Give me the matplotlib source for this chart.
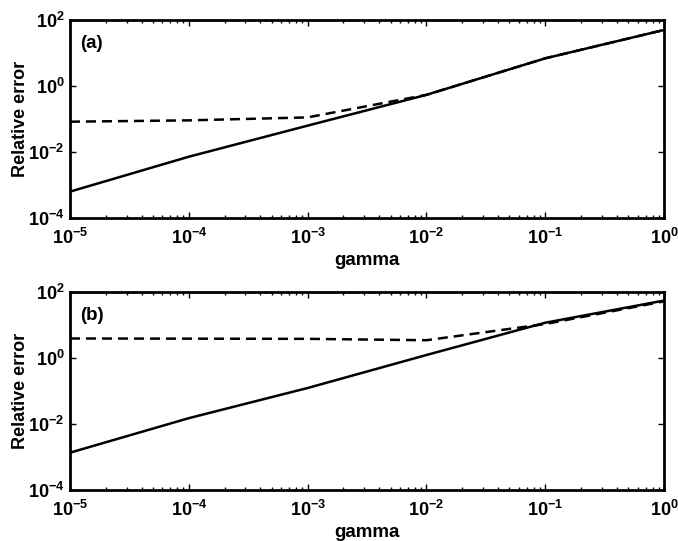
import matplotlib
matplotlib.use('Agg')
import matplotlib.pyplot as plt
from matplotlib.ticker import LogLocator, NullLocator, NullFormatter
import numpy as np

plt.rcParams['font.family'] = 'Liberation Sans'
plt.rcParams['font.weight'] = 'bold'
plt.rcParams['mathtext.fontset'] = 'custom'
plt.rcParams['mathtext.rm'] = 'Liberation Sans:bold'
plt.rcParams['mathtext.bf'] = 'Liberation Sans:bold'
plt.rcParams['mathtext.default'] = 'bf'

###### dati
gamma = [1e-5, 1e-4, 1e-3, 1e-2, 1e-1, 1e0]

# pannello (a)
err_a_solid = [6.3e-4, 7.2e-3, 6.3e-2, 0.54, 6.9, 50.0]
err_a_dash = [8.3e-2, 9.1e-2, 0.112, 0.54, 6.9, 50.0]

# pannello (b)
err_b_solid = [1.35e-3, 1.5e-2, 0.123, 1.23, 11.7, 55.0]
err_b_dash = [3.9, 3.85, 3.8, 3.45, 10.7, 52.0]

xticks = [1e-5, 1e-4, 1e-3, 1e-2, 1e-1, 1e0]
xlabels = ['$10^{-5}$', '$10^{-4}$', '$10^{-3}$', '$10^{-2}$', '$10^{-1}$', '$10^{0}$']
yticks = [1e-4, 1e-2, 1e0, 1e2]
ylabels = ['$10^{-4}$', '$10^{-2}$', '$10^{0}$', '$10^{2}$']

panels = [('(a)', err_a_solid, err_a_dash), ('(b)', err_b_solid, err_b_dash)]

fig = plt.figure(figsize=(6.78, 5.41), dpi=100)
boxes = [[0.1032, 0.597, 0.8762, 0.366], [0.1032, 0.0943, 0.8762, 0.366]]

for box, (tag, solid, dash) in zip(boxes, panels):
    ax = fig.add_axes(box)
    ax.loglog(gamma, solid, color='black', lw=1.8)
    ax.loglog(gamma, dash, color='black', lw=1.8, linestyle=(0, (4.0, 2.4)))
    ax.set_xlim(1e-5, 1e0)
    ax.set_ylim(1e-4, 1e2)

    ax.set_xticks(xticks)
    ax.set_xticklabels(xlabels)
    ax.xaxis.set_minor_locator(LogLocator(base=10, subs=np.arange(2, 10), numticks=20))
    ax.xaxis.set_minor_formatter(NullFormatter())
    ax.set_yticks(yticks)
    ax.set_yticklabels(ylabels)
    ax.yaxis.set_minor_locator(NullLocator())

    ax.tick_params(which='both', direction='in', top=True, right=True,
                   labelsize=13, width=1.0)
    ax.tick_params(axis='x', pad=7)
    ax.tick_params(axis='y', pad=4)
    ax.tick_params(which='major', length=4.5)
    ax.tick_params(which='minor', length=2.2)
    for s in ax.spines.values():
        s.set_linewidth(2.0)

    ax.set_xlabel('gamma', fontsize=13.5, fontweight='bold', labelpad=3)
    ax.set_ylabel('Relative error', fontsize=13, fontweight='bold', labelpad=-1)
    ax.text(0.017, 0.88, tag, transform=ax.transAxes, fontsize=13.5,
            fontweight='bold', va='center', ha='left')

plt.savefig('out.png', dpi=100)
